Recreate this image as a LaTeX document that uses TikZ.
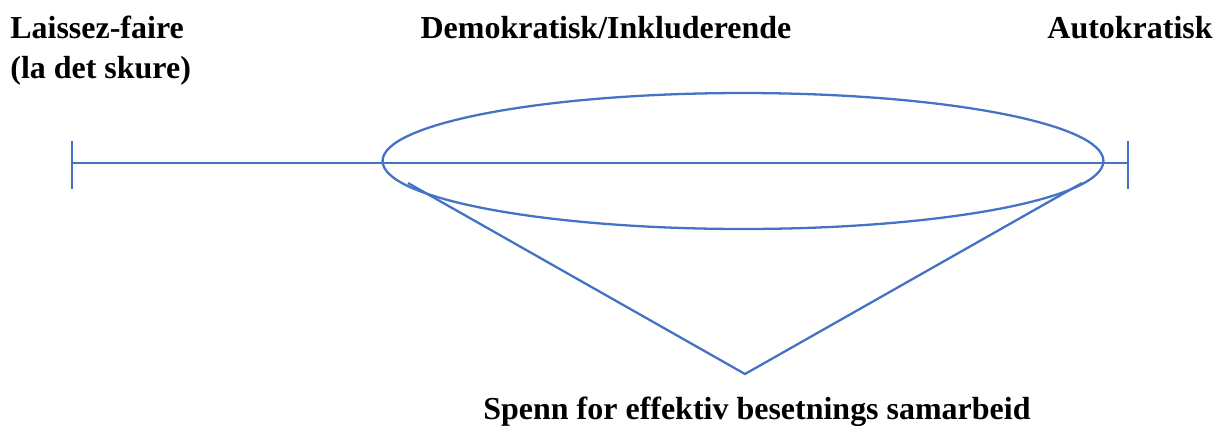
\documentclass[tikz,border=0pt]{standalone}
\usepackage{fontspec}
\setmainfont{Liberation Serif}
\usetikzlibrary{shapes.geometric}
\definecolor{lineblue}{RGB}{68,114,196}

\begin{document}
\begin{tikzpicture}[x=0.02cm, y=-0.02cm]
		\tikzset{axis/.style={draw=lineblue, line width=1.3pt},
			label/.style={font=\fontsize{18.2}{22.5}\selectfont\bfseries, inner sep=0pt}}
		\useasboundingbox (0,0) rectangle (1225,434);
		
		% scale line with end ticks
		\coordinate (l) at (72,163);
		\coordinate (r) at (1128,163);
		\coordinate (lt) at (72,141);
		\coordinate (lb) at (72,189);
		\coordinate (rt) at (1128,141);
		\coordinate (rb) at (1128,189);
		\draw[axis] (l) -- (r);
		\draw[axis] (lt) -- (lb);
		\draw[axis] (rt) -- (rb);
		
		% span ellipse and funnel
		\node[axis, ellipse, minimum width=14.42cm, minimum height=2.72cm, inner sep=0pt] (span) at (743,161) {};
		\coordinate (vl) at (408,183);
		\coordinate (vr) at (1082,183);
		\coordinate (apex) at (745,374);
		\draw[axis] (vl) -- (apex) -- (vr);
		
		\node[label, anchor=north west, align=left] (laissez) at (10,16) {Laissez-faire\\(la det skure)};
		\node[label, anchor=north] (demo) at (606,16) {Demokratisk/Inkluderende};
		\node[label, anchor=north east] (auto) at (1213,16) {Autokratisk};
		\node[label, anchor=north] (spenn) at (757,397) {Spenn for effektiv besetnings samarbeid};
		
\end{tikzpicture}
\end{document}
